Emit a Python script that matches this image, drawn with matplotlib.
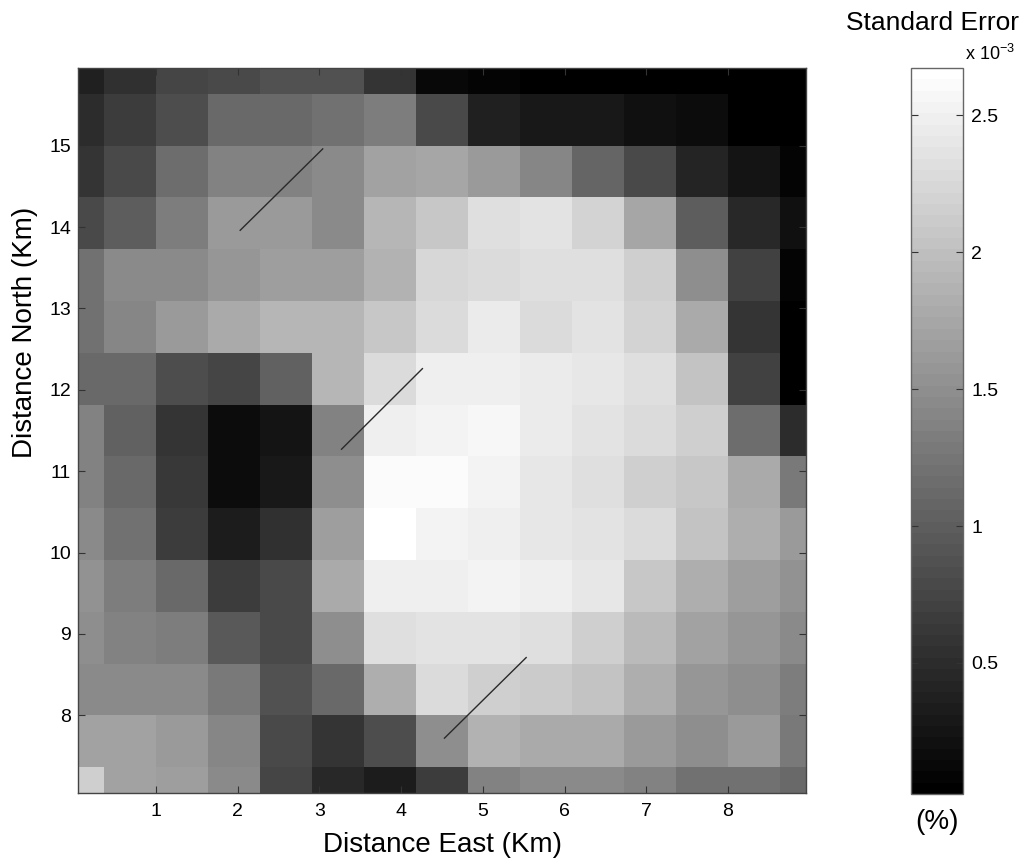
import matplotlib
matplotlib.use("Agg")
import matplotlib.pyplot as plt
import numpy as np
from matplotlib.colors import ListedColormap, Normalize

plt.rcParams['font.family'] = ['Liberation Sans', 'DejaVu Sans']
plt.rcParams['mathtext.default'] = 'regular'

# grid cell centres (km)
east_km = np.linspace(0.045, 8.955, 15)
north_km = np.linspace(7.046, 15.954, 15)

# standard error (x 1e-3 %), rows listed from north to south
se_rows = [
    [0.38, 0.52, 0.74, 0.79, 0.87, 0.87, 0.57, 0.13, 0.07, 0.06, 0.06, 0.06, 0.06, 0.05, 0.05],
    [0.48, 0.67, 0.85, 1.10, 1.10, 1.19, 1.31, 0.77, 0.38, 0.29, 0.29, 0.21, 0.15, 0.06, 0.06],
    [0.60, 0.79, 1.14, 1.35, 1.37, 1.44, 1.68, 1.74, 1.60, 1.41, 1.08, 0.77, 0.41, 0.23, 0.10],
    [0.79, 0.98, 1.31, 1.62, 1.60, 1.46, 1.91, 2.06, 2.31, 2.35, 2.20, 1.74, 0.98, 0.46, 0.19],
    [1.19, 1.46, 1.46, 1.57, 1.64, 1.64, 1.87, 2.24, 2.27, 2.34, 2.34, 2.14, 1.48, 0.69, 0.08],
    [1.21, 1.40, 1.60, 1.77, 1.90, 1.90, 2.07, 2.27, 2.43, 2.27, 2.37, 2.20, 1.79, 0.60, 0.04],
    [1.12, 1.12, 0.83, 0.74, 1.02, 1.90, 2.27, 2.47, 2.50, 2.46, 2.40, 2.31, 2.01, 0.71, 0.06],
    [1.35, 1.04, 0.57, 0.17, 0.23, 1.35, 2.50, 2.54, 2.55, 2.43, 2.35, 2.27, 2.14, 1.14, 0.48],
    [1.37, 1.10, 0.63, 0.17, 0.29, 1.48, 2.59, 2.62, 2.54, 2.41, 2.33, 2.17, 2.06, 1.77, 1.27],
    [1.44, 1.21, 0.65, 0.35, 0.56, 1.66, 2.67, 2.54, 2.50, 2.41, 2.37, 2.27, 2.04, 1.81, 1.60],
    [1.54, 1.31, 1.10, 0.65, 0.79, 1.79, 2.50, 2.47, 2.52, 2.47, 2.40, 2.08, 1.83, 1.64, 1.54],
    [1.48, 1.37, 1.31, 0.94, 0.79, 1.48, 2.31, 2.35, 2.37, 2.31, 2.17, 1.93, 1.71, 1.58, 1.44],
    [1.46, 1.46, 1.46, 1.29, 0.87, 1.12, 1.81, 2.27, 2.16, 2.10, 2.02, 1.81, 1.58, 1.48, 1.31],
    [1.71, 1.71, 1.62, 1.39, 0.79, 0.57, 0.81, 1.48, 1.85, 1.79, 1.79, 1.60, 1.48, 1.60, 1.27],
    [2.14, 1.71, 1.64, 1.46, 0.74, 0.44, 0.35, 0.65, 1.35, 1.44, 1.44, 1.35, 1.19, 1.19, 1.10],
]
se_min, se_max = 0.022, 2.672

# direction segments (km)
seg_x0 = [2.03, 3.27, 4.53]
seg_y0 = [13.96, 11.27, 7.72]
seg_x1 = [3.04, 4.26, 5.53]
seg_y1 = [14.96, 12.26, 8.71]

cb_ticks = [0.5, 1, 1.5, 2, 2.5]

grid = np.flipud(np.array(se_rows))
gray64 = ListedColormap(plt.cm.gray(np.linspace(0, 1, 64)))

fig = plt.figure(figsize=(10.29, 8.63), dpi=100)
ax = fig.add_axes([0.0758, 0.0811, 0.7075, 0.8401])
mesh = ax.pcolormesh(east_km, north_km, grid, cmap=gray64,
                     norm=Normalize(se_min, se_max), shading='nearest')
for x0, y0, x1, y1 in zip(seg_x0, seg_y0, seg_x1, seg_y1):
    ax.plot([x0, x1], [y0, y1], color='#2a2a2a', lw=1.0)

ax.set_xlim(east_km[0], east_km[-1])
ax.set_ylim(north_km[0], north_km[-1])
ax.set_xticks(range(1, 9))
ax.set_yticks(range(8, 16))
ax.tick_params(direction='in', length=5, width=0.8, color='#333333',
               top=True, right=True, labelsize=14)
ax.tick_params(axis='x', pad=7)
ax.tick_params(axis='y', pad=5)
for sp in ax.spines.values():
    sp.set_color('#444444')
    sp.set_linewidth(1.0)

ax.set_xlabel('Distance East (Km)', fontsize=20, va='center')
ax.xaxis.set_label_coords(0.5, -0.072)
ax.set_ylabel('Distance North (Km)', fontsize=20, va='center')
ax.yaxis.set_label_coords(-0.073, 0.636)

cax = fig.add_axes([0.8853, 0.080, 0.0505, 0.8413])
cb = fig.colorbar(mesh, cax=cax)
cb.set_ticks(cb_ticks)
cb.set_ticklabels(['%g' % t for t in cb_ticks])
cax.tick_params(direction='in', length=5, width=0.8, color='#333333',
                left=True, right=True, labelsize=14, pad=6)
cb.outline.set_edgecolor('#666666')
cb.outline.set_linewidth(1.0)

fig.text(0.9067, 0.9733, 'Standard Error', ha='center', va='center', fontsize=19)
fig.text(0.9378, 0.9374, 'x 10$^{-3}$', ha='left', va='center', fontsize=13)
fig.text(0.9106, 0.0475, '(%)', ha='center', va='center', fontsize=20)

fig.savefig('out.png', dpi=100)
